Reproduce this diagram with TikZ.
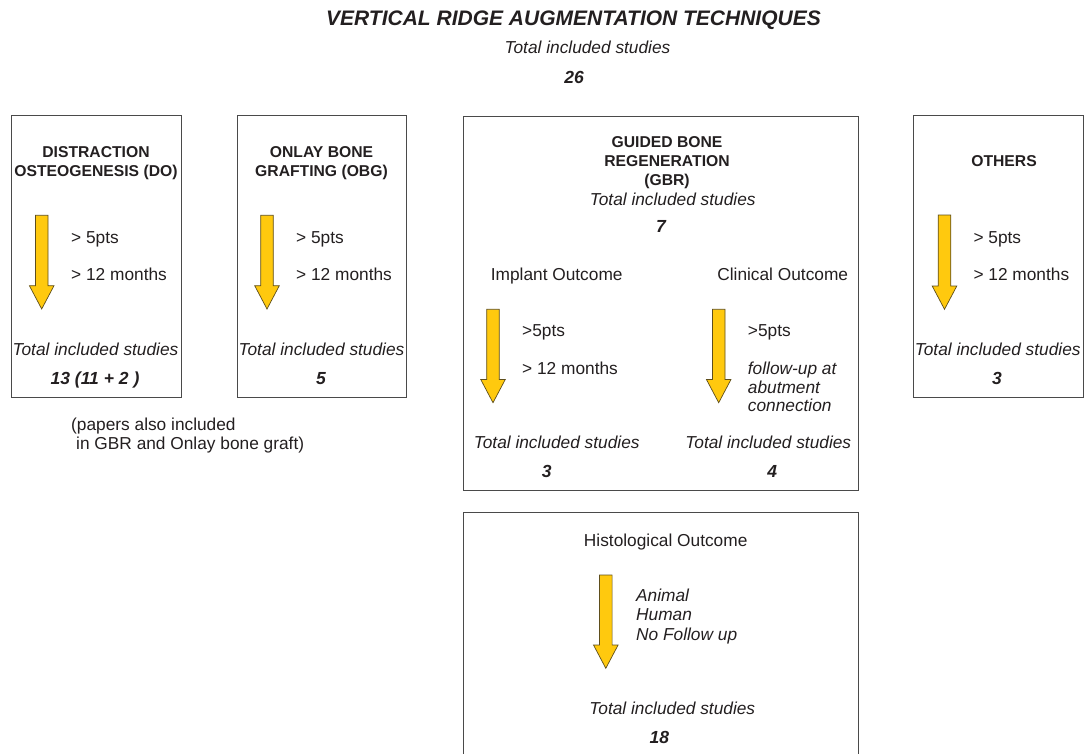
\documentclass[tikz,border=0pt]{standalone}
\usepackage{fontspec}
\setmainfont{Liberation Sans}
\usepackage{tikz}

% freccia gialla: x centro, y inizio, y punta
\newcommand{\yarrow}[3]{%
  \path[fill=colArrow, draw=colArrowLine, line width=0.7pt]
    (#1-6.3,#2) -- (#1+6.3,#2) -- (#1+6.3,#3-23.3) -- (#1+12.3,#3-23.3)
    -- (#1,#3) -- (#1-12.3,#3-23.3) -- (#1-6.3,#3-23.3) -- cycle;}

\begin{document}
\begin{tikzpicture}[x=1pt, y=-1pt,
  frame/.style={draw=colFrame, line width=0.8pt, anchor=north west, inner sep=0pt},
  hd/.style={font=\fontsize{15.7}{19}\selectfont\bfseries, text=colText, align=center, anchor=north, inner sep=0pt},
  txt/.style={font=\fontsize{17.3}{19}\selectfont, text=colText, anchor=base, inner sep=0pt},
  crit/.style={txt, anchor=base west},
  tot/.style={font=\fontsize{17.3}{19}\selectfont\itshape, text=colText, anchor=base, inner sep=0pt},
  num/.style={font=\fontsize{17.5}{19}\selectfont\bfseries\itshape, text=colText, anchor=base, inner sep=0pt}]

% Colori
\definecolor{colArrow}{HTML}{FFC90E}
\definecolor{colArrowLine}{HTML}{5E4E1C}
\definecolor{colFrame}{HTML}{4A4A4A}
\definecolor{colText}{HTML}{231F20}

\clip (0,0) rectangle (1084,753);

% Titolo
\node[font=\fontsize{21}{24}\selectfont\bfseries\itshape, text=colText, anchor=base] (title) at (573.5,25.5) {VERTICAL RIDGE AUGMENTATION TECHNIQUES};
\node[tot] (totAll) at (587.5,53) {Total included studies};
\node[num] (numAll) at (574,83) {26};

% Distraction osteogenesis
\node[frame, minimum width=170, minimum height=282] (doBox) at (11,115) {};
\node[hd] (doHead) at (96,146) {DISTRACTION\\OSTEOGENESIS (DO)};
\yarrow{41.7}{215.3}{309}
\node[crit] (doCritA) at (71,243.5) {> 5pts};
\node[crit] (doCritB) at (71,280) {> 12 months};
\node[tot] (doTot) at (95.5,355) {Total included studies};
\node[num] (doNum) at (95,384) {13 (11 + 2 )};
\node[txt, anchor=north west, align=left, font=\fontsize{17.3}{19.5}\selectfont] (doNote) at (71,417.5)
  {(papers also included\\\hspace*{5pt}in GBR and Onlay bone graft)};

% Onlay bone grafting
\node[frame, minimum width=169, minimum height=282] (obgBox) at (237,115) {};
\node[hd] (obgHead) at (321.5,146) {ONLAY BONE\\GRAFTING (OBG)};
\yarrow{267}{215.3}{309}
\node[crit] (obgCritA) at (296,243.5) {> 5pts};
\node[crit] (obgCritB) at (296,280) {> 12 months};
\node[tot] (obgTot) at (321.5,355) {Total included studies};
\node[num] (obgNum) at (321,384) {5};

% Guided bone regeneration
\node[frame, minimum width=395, minimum height=374.5] (gbrBox) at (462.7,115.7) {};
\node[hd] (gbrHead) at (667,136.7) {GUIDED BONE\\REGENERATION\\(GBR)};
\node[tot] (gbrTot) at (672.7,205.5) {Total included studies};
\node[num] (gbrNum) at (661,232.7) {7};

\node[txt] (implHead) at (556.7,280) {Implant Outcome};
\yarrow{493}{309.3}{402.7}
\node[crit] (implCritA) at (522,336) {>5pts};
\node[crit] (implCritB) at (522,374) {> 12 months};
\node[tot] (implTot) at (556.7,448.7) {Total included studies};
\node[num] (implNum) at (546.7,477.7) {3};

\node[txt] (clinHead) at (782.7,280) {Clinical Outcome};
\yarrow{718.7}{309.3}{402.7}
\node[crit] (clinCritA) at (747.7,336) {>5pts};
\node[tot, anchor=north west, align=left, font=\fontsize{17.3}{18.7}\selectfont\itshape] (clinCritB) at (747.7,361.7)
  {follow-up at\\abutment\\connection};
\node[tot] (clinTot) at (768.3,448.7) {Total included studies};
\node[num] (clinNum) at (772.3,477.7) {4};

% Histological outcome
\node[frame, minimum width=394.5, minimum height=260] (histBox) at (463,512.3) {};
\node[txt] (histHead) at (665.7,546) {Histological Outcome};
\yarrow{605.8}{575}{668.3}
\node[tot, anchor=north west, align=left, font=\fontsize{17.3}{19.2}\selectfont\itshape] (histCrit) at (636,589)
  {Animal\\Human\\No Follow up};
\node[tot] (histTot) at (672.3,714.3) {Total included studies};
\node[num] (histNum) at (659.3,743.3) {18};

% Others
\node[frame, minimum width=169.7, minimum height=282] (othBox) at (913.3,115) {};
\node[hd] (othHead) at (1004,155.4) {OTHERS};
\yarrow{944.5}{215}{309.3}
\node[crit] (othCritA) at (973.3,243.5) {> 5pts};
\node[crit] (othCritB) at (973.3,280) {> 12 months};
\node[tot] (othTot) at (997.7,355.3) {Total included studies};
\node[num] (othNum) at (997,384.7) {3};

\end{tikzpicture}
\end{document}
